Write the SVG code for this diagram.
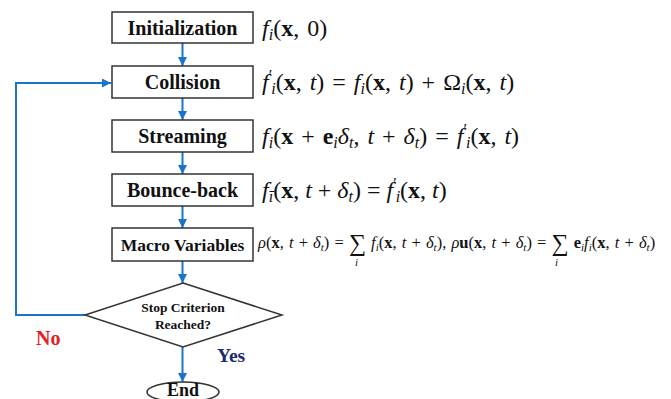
<svg xmlns="http://www.w3.org/2000/svg" width="671" height="399" viewBox="0 0 671 399">
<defs>
<marker id="ah" viewBox="0 0 10 10" refX="10" refY="5" markerWidth="9" markerHeight="9" markerUnits="userSpaceOnUse" orient="auto">
<path d="M0,0 L10,5 L0,10 Z" fill="#1874CD"/>
</marker>
<style>
.box{fill:#fff;stroke:#333;stroke-width:1.5}
.lbl{font-family:"Liberation Serif",serif;font-weight:bold;font-size:20px;fill:#111;text-anchor:middle}
.con{fill:none;stroke:#1874CD;stroke-width:2}
.m{font-family:"Liberation Serif",serif;font-style:italic;font-size:24px;fill:#111;word-spacing:2px}
.u{font-style:normal}
.b{font-style:normal;font-weight:bold}
.s{font-size:16px}
.sm{font-family:"Liberation Serif",serif;font-style:italic;font-size:16.5px;fill:#111;word-spacing:1px}
.ss{font-size:11px}
.big{font-style:normal;font-size:24px}
.dt{font-family:"Liberation Serif",serif;font-weight:bold;font-size:13.5px;fill:#111;text-anchor:middle}
</style>
</defs>
<rect width="671" height="399" fill="#fff"/>
<g id="connectors">
<line class="con" x1="182.5" y1="43" x2="182.5" y2="66" marker-end="url(#ah)"/>
<line class="con" x1="182.5" y1="98" x2="182.5" y2="120" marker-end="url(#ah)"/>
<line class="con" x1="182.5" y1="152" x2="182.5" y2="174" marker-end="url(#ah)"/>
<line class="con" x1="182.5" y1="206" x2="182.5" y2="228" marker-end="url(#ah)"/>
<line class="con" x1="182.5" y1="261" x2="182.5" y2="283" marker-end="url(#ah)"/>
<line class="con" x1="182.5" y1="347" x2="182.5" y2="382" marker-end="url(#ah)"/>
<polyline class="con" points="85,315 16,315 16,83 111,83" marker-end="url(#ah)"/>
<text x="36" y="345" font-family="Liberation Serif,serif" font-weight="bold" font-size="20" fill="#e8201c">No</text>
<text x="217" y="362" font-family="Liberation Serif,serif" font-weight="bold" font-size="19.5" fill="#1c2a6e">Yes</text>
</g>
<g id="init">
<rect class="box" x="112" y="12" width="141" height="31"/>
<text class="lbl" x="182.5" y="35">Initialization</text>
</g>
<g id="collision">
<rect class="box" x="112" y="66" width="141" height="32"/>
<text class="lbl" x="182.5" y="89">Collision</text>
</g>
<g id="streaming">
<rect class="box" x="112" y="120" width="141" height="32"/>
<text class="lbl" x="182.5" y="143" font-size="20.5">Streaming</text>
</g>
<g id="bounce">
<rect class="box" x="112" y="174" width="141" height="32"/>
<text class="lbl" x="182.5" y="197" font-size="20.5">Bounce-back</text>
</g>
<g id="macro">
<rect class="box" x="112" y="228" width="141" height="33"/>
<text class="lbl" x="182.5" y="250.5" style="font-size:17.5px">Macro Variables</text>
</g>
<g id="stop">
<polygon class="box" points="183,283 282,315 183,347 85,315"/>
<text class="dt" x="183" y="312">Stop Criterion</text>
<text class="dt" x="183" y="329">Reached?</text>
</g>
<g id="end">
<ellipse class="box" cx="183" cy="392" rx="36" ry="10"/>
<text class="lbl" x="183" y="396" style="font-size:18px">End</text>
</g>
<g id="formulas">
<text class="m" x="262" y="36">f<tspan class="s" dy="4">i</tspan><tspan class="u" dy="-4">(</tspan><tspan class="b">x</tspan><tspan class="u">, 0)</tspan></text>
<text class="m" x="262" y="90">f<tspan class="s u" dy="-9">′</tspan><tspan class="s" dx="-1" dy="13">i</tspan><tspan class="u" dy="-4">(</tspan><tspan class="b">x</tspan><tspan class="u">, </tspan>t<tspan class="u">) = </tspan>f<tspan class="s" dy="4">i</tspan><tspan class="u" dy="-4">(</tspan><tspan class="b">x</tspan><tspan class="u">, </tspan>t<tspan class="u">) + Ω</tspan><tspan class="s" dy="4">i</tspan><tspan class="u" dy="-4">(</tspan><tspan class="b">x</tspan><tspan class="u">, </tspan>t<tspan class="u">)</tspan></text>
<text class="m" x="262" y="144">f<tspan class="s" dy="4">i</tspan><tspan class="u" dy="-4">(</tspan><tspan class="b">x</tspan><tspan class="u"> + </tspan><tspan class="b">e</tspan><tspan class="s" dy="4">i</tspan><tspan dy="-4">δ</tspan><tspan class="s" dy="4">t</tspan><tspan class="u" dy="-4">, </tspan>t<tspan class="u"> + </tspan>δ<tspan class="s" dy="4">t</tspan><tspan class="u" dy="-4">) = </tspan>f<tspan class="s u" dy="-9">′</tspan><tspan class="s" dx="-1" dy="13">i</tspan><tspan class="u" dy="-4">(</tspan><tspan class="b">x</tspan><tspan class="u">, </tspan>t<tspan class="u">)</tspan></text>
<text class="m" x="262" y="198" style="word-spacing:0px">f<tspan class="s" dy="4">ī</tspan><tspan class="u" dy="-4">(</tspan><tspan class="b">x</tspan><tspan class="u">, </tspan>t<tspan class="u"> + </tspan>δ<tspan class="s" dy="4">t</tspan><tspan class="u" dy="-4">) = </tspan>f<tspan class="s u" dy="-9">′</tspan><tspan class="s" dx="-1" dy="13">i</tspan><tspan class="u" dy="-4">(</tspan><tspan class="b">x</tspan><tspan class="u">, </tspan>t<tspan class="u">)</tspan></text>
<text class="sm" x="258" y="248">ρ<tspan class="u">(</tspan><tspan class="b">x</tspan><tspan class="u">, </tspan>t<tspan class="u"> + </tspan>δ<tspan class="ss" dy="3">t</tspan><tspan class="u" dy="-3">) = </tspan><tspan class="big" dy="3">∑</tspan><tspan dy="-3"> f</tspan><tspan class="ss" dy="3">i</tspan><tspan class="u" dy="-3">(</tspan><tspan class="b">x</tspan><tspan class="u">, </tspan>t<tspan class="u"> + </tspan>δ<tspan class="ss" dy="3">t</tspan><tspan class="u" dy="-3">),  </tspan>ρ<tspan class="b">u</tspan><tspan class="u">(</tspan><tspan class="b">x</tspan><tspan class="u">, </tspan>t<tspan class="u"> + </tspan>δ<tspan class="ss" dy="3">t</tspan><tspan class="u" dy="-3">) = </tspan><tspan class="big" dy="3">∑</tspan><tspan class="b" dy="-3"> e</tspan><tspan class="ss" dy="3">i</tspan><tspan dy="-3">f</tspan><tspan class="ss" dy="3">i</tspan><tspan class="u" dy="-3">(</tspan><tspan class="b">x</tspan><tspan class="u">, </tspan>t<tspan class="u"> + </tspan>δ<tspan class="ss" dy="3">t</tspan><tspan class="u" dy="-3">)</tspan></text>
<text class="sm ss" x="355" y="266">i</text>
<text class="sm ss" x="555" y="266">i</text>
</g>
</svg>
